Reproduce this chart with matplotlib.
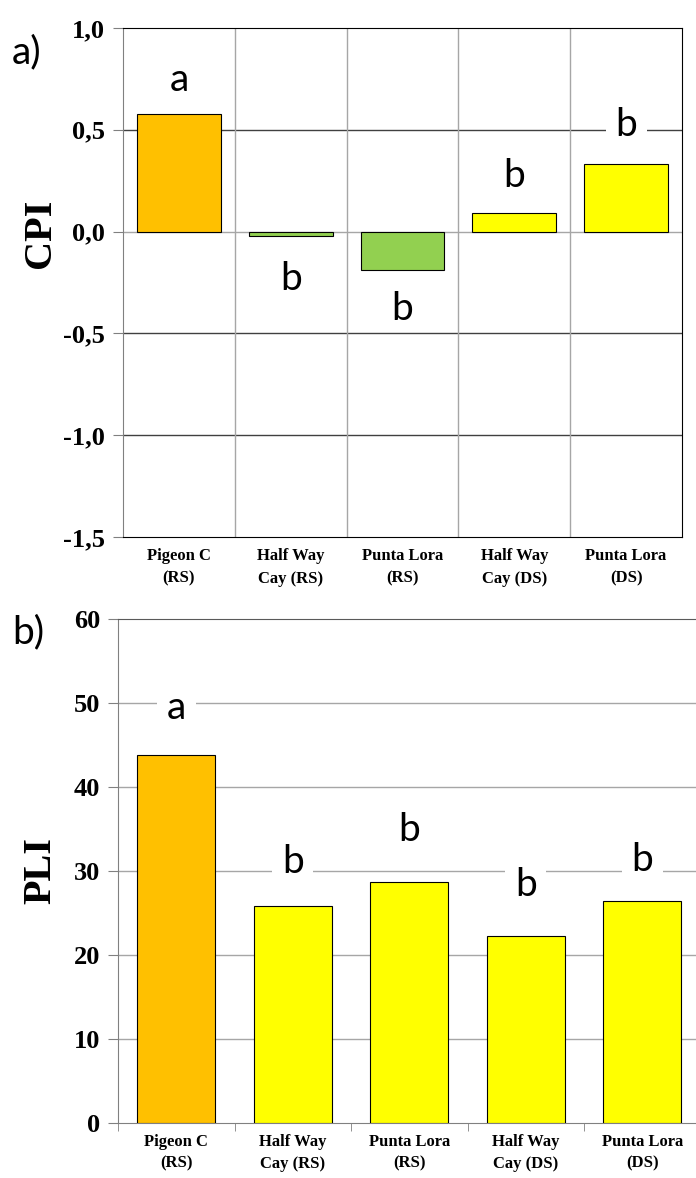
import numpy as np
import matplotlib.pyplot as plt

# ----------------------------------------------
# Data
sites = ['Pigeon C\n(RS)', 'Half Way\nCay (RS)', 'Punta Lora\n(RS)',
         'Half Way\nCay (DS)', 'Punta Lora\n(DS)']
colors = ['#FFC000', '#92D050', '#92D050', '#FFFF00', '#FFFF00']
colors_pli = ['#FFC000', '#FFFF00', '#FFFF00', '#FFFF00', '#FFFF00']

cpi = [0.58, -0.02, -0.19, 0.09, 0.33]
cpi_groups = ['a', 'b', 'b', 'b', 'b']
cpi_group_y = [0.745, -0.235, -0.38, 0.275, 0.525]
cpi_ticks = [1.0, 0.5, 0.0, -0.5, -1.0, -1.5]
cpi_ticklabels = ['1,0', '0,5', '0,0', '-0,5', '-1,0', '-1,5']

pli = [43.8, 25.8, 28.7, 22.3, 26.4]
pli_groups = ['a', 'b', 'b', 'b', 'b']
pli_group_y = [49.4, 31.1, 34.9, 28.3, 31.3]
pli_ticks = [0, 10, 20, 30, 40, 50, 60]

serif = 'Liberation Serif'
sans = 'Lato'
x = np.arange(len(sites))

fig = plt.figure(figsize=(6.96, 11.78), dpi=100)
W, H = 696.0, 1178.0


def group_letters(ax, ys, letters, ticks):
    # white box behind a letter only where it sits on a gridline
    step = abs(ticks[1] - ticks[0])
    for i in range(len(ys)):
        near = min(abs(ys[i] - t) for t in ticks)
        box = None
        if near < 0.2 * step:
            box = dict(facecolor='white', edgecolor='none', pad=7)
        ax.text(x[i], ys[i], letters[i], ha='center', va='center',
                fontsize=28, family=sans, zorder=4, bbox=box)


# ----------------------------------------------
# a) CPI
ax1 = fig.add_axes([123 / W, 1 - 537 / H, (682 - 123) / W, (537 - 28) / H])
ax1.set_axisbelow(True)
ax1.bar(x, cpi, width=0.75, color=colors, edgecolor='black', linewidth=0.8, zorder=3)
ax1.set_xlim(-0.5, 4.5)
ax1.set_ylim(-1.5, 1.0)
for yv in cpi_ticks[1:-1]:
    c = '#a6a6a6' if yv == 0 else '#404040'
    ax1.axhline(yv, color=c, linewidth=1.0, zorder=1)
for xv in np.arange(0.5, 4.5, 1.0):
    ax1.axvline(xv, color='#a6a6a6', linewidth=1.0, zorder=1)
group_letters(ax1, cpi_group_y, cpi_groups, cpi_ticks)
ax1.set_yticks(cpi_ticks)
ax1.set_yticklabels(cpi_ticklabels, fontsize=19, family=serif, fontweight='bold')
ax1.set_xticks(x)
ax1.set_xticklabels(sites, fontsize=12, family=serif, fontweight='bold', linespacing=1.55)
ax1.tick_params(axis='x', length=0, pad=8)
ax1.tick_params(axis='y', direction='out', length=7, color='#808080', pad=6)
for s in ['top', 'right', 'bottom']:
    ax1.spines[s].set_color('black')
ax1.spines['left'].set_color('#808080')

# ----------------------------------------------
# b) PLI
cw = 116.5
ax2 = fig.add_axes([118 / W, 1 - 1123 / H, 5 * cw / W, (1123 - 619) / H])
ax2.set_axisbelow(True)
ax2.bar(x, pli, width=0.67, color=colors_pli, edgecolor='black', linewidth=0.8, zorder=3)
ax2.set_xlim(-0.5, 4.5)
ax2.set_ylim(0, 60)
for yv in pli_ticks[1:-1]:
    ax2.axhline(yv, color='#a6a6a6', linewidth=1.0, zorder=1)
group_letters(ax2, pli_group_y, pli_groups, pli_ticks)
ax2.set_yticks(pli_ticks)
ax2.set_yticklabels([str(t) for t in pli_ticks], fontsize=19, family=serif, fontweight='bold')
ax2.set_xticks(x)
ax2.set_xticklabels(sites, fontsize=12, family=serif, fontweight='bold', linespacing=1.45)
ax2.set_xticks(np.arange(-0.5, 5.0, 1.0), minor=True)
ax2.tick_params(axis='x', which='major', length=0, pad=8)
ax2.tick_params(axis='x', which='minor', direction='out', length=6, color='#808080')
ax2.tick_params(axis='y', direction='out', length=7, color='#808080', pad=6)
ax2.spines['top'].set_color('#595959')
ax2.spines['left'].set_color('#808080')
ax2.spines['bottom'].set_color('#808080')
ax2.spines['right'].set_visible(False)

# ----------------------------------------------
# Panel letters and axis titles
fig.text(12 / W, 1 - 52 / H, 'a)', fontsize=28, family=sans, va='center', ha='left')
fig.text(12 / W, 1 - 632 / H, 'b)', fontsize=28, family=sans, va='center', ha='left')
fig.text(40 / W, 1 - 233 / H, 'CPI', fontsize=29, family=serif, fontweight='bold',
         rotation=90, ha='center', va='center')
fig.text(41 / W, 1 - 871 / H, 'PLI', fontsize=29, family=serif, fontweight='bold',
         rotation=90, ha='center', va='center')

fig.savefig('out.png', dpi=100)
